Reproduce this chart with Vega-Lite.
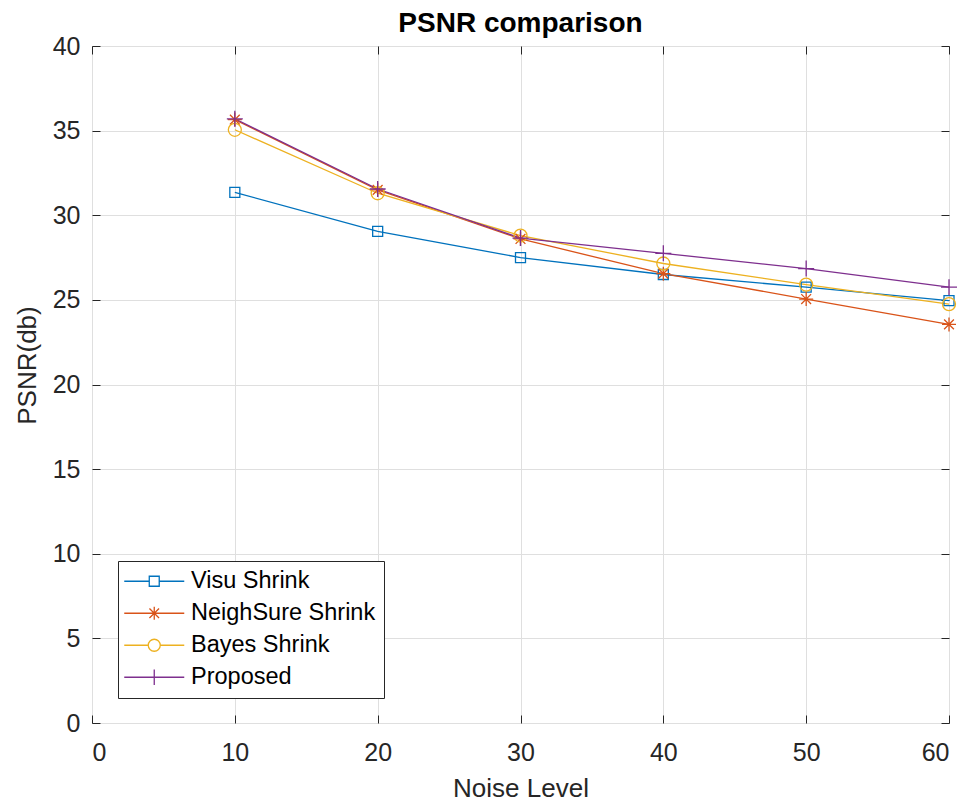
{
  "$schema": "https://vega.github.io/schema/vega-lite/v6.json",
  "width": 857,
  "height": 677,
  "autosize": "none",
  "padding": {"left": 92, "top": 46, "right": 23, "bottom": 88},
  "background": "white",
  "title": {"text": "PSNR comparison", "font": "Liberation Sans", "fontSize": 28, "fontWeight": "bold", "color": "#000000", "baseline": "alphabetic", "offset": 2, "dy": 28},
  "config": {
    "view": {"stroke": "#262626", "strokeWidth": 1},
    "font": "Liberation Sans",
    "axis": {
      "gridColor": "#dfdfdf", "gridWidth": 1,
      "domain": false, "tickColor": "#262626", "tickSize": -8,
      "labelFont": "Liberation Sans", "labelFontSize": 25, "labelColor": "#262626",
      "titleFont": "Liberation Sans", "titleFontSize": 26, "titleColor": "#262626", "titleFontWeight": "normal"
    }
  },
  "data": {"values": [
    {"x": 10, "y": 31.35, "series": "Visu Shrink"},
    {"x": 20, "y": 29.05, "series": "Visu Shrink"},
    {"x": 30, "y": 27.5, "series": "Visu Shrink"},
    {"x": 40, "y": 26.5, "series": "Visu Shrink"},
    {"x": 50, "y": 25.75, "series": "Visu Shrink"},
    {"x": 60, "y": 24.95, "series": "Visu Shrink"},
    {"x": 10, "y": 35.65, "series": "NeighSure Shrink"},
    {"x": 20, "y": 31.5, "series": "NeighSure Shrink"},
    {"x": 30, "y": 28.6, "series": "NeighSure Shrink"},
    {"x": 40, "y": 26.55, "series": "NeighSure Shrink"},
    {"x": 50, "y": 25.05, "series": "NeighSure Shrink"},
    {"x": 60, "y": 23.55, "series": "NeighSure Shrink"},
    {"x": 10, "y": 35.05, "series": "Bayes Shrink"},
    {"x": 20, "y": 31.3, "series": "Bayes Shrink"},
    {"x": 30, "y": 28.8, "series": "Bayes Shrink"},
    {"x": 40, "y": 27.15, "series": "Bayes Shrink"},
    {"x": 50, "y": 25.9, "series": "Bayes Shrink"},
    {"x": 60, "y": 24.75, "series": "Bayes Shrink"},
    {"x": 10, "y": 35.7, "series": "Proposed"},
    {"x": 20, "y": 31.55, "series": "Proposed"},
    {"x": 30, "y": 28.65, "series": "Proposed"},
    {"x": 40, "y": 27.75, "series": "Proposed"},
    {"x": 50, "y": 26.85, "series": "Proposed"},
    {"x": 60, "y": 25.75, "series": "Proposed"}
  ]},
  "encoding": {
    "x": {"field": "x", "type": "quantitative", "scale": {"domain": [0, 60], "nice": false}, "axis": null},
    "y": {"field": "y", "type": "quantitative", "scale": {"domain": [0, 40], "nice": false}, "axis": null}
  },
  "layer": [
    {
      "transform": [{"filter": "datum.series === 'Visu Shrink'"}],
      "mark": {"type": "line", "strokeWidth": 1.3, "color": "#0072BD"},
      "encoding": {
        "x": {"field": "x", "type": "quantitative", "axis": {"orient": "bottom", "grid": true, "values": [0, 10, 20, 30, 40, 50, 60], "title": "Noise Level", "labelPadding": 25, "titlePadding": 10}},
        "y": {"field": "y", "type": "quantitative", "axis": {"orient": "left", "grid": true, "values": [0, 5, 10, 15, 20, 25, 30, 35, 40], "title": "PSNR(db)", "labelPadding": 20, "titleAngle": 270, "titleAlign": "center", "titleBaseline": "alphabetic", "titleX": -57, "titleY": 319}}
      }
    },
    {"transform": [{"filter": "datum.series === 'NeighSure Shrink'"}], "mark": {"type": "line", "strokeWidth": 1.3, "color": "#D95319"}},
    {"transform": [{"filter": "datum.series === 'Bayes Shrink'"}], "mark": {"type": "line", "strokeWidth": 1.3, "color": "#EDB120"}},
    {"transform": [{"filter": "datum.series === 'Proposed'"}], "mark": {"type": "line", "strokeWidth": 1.3, "color": "#7E2F8E"}},
    {"transform": [{"filter": "datum.series === 'Visu Shrink'"}], "mark": {"type": "point", "shape": "square", "size": 100, "filled": false, "strokeWidth": 1.3, "opacity": 1, "color": "#0072BD"}},
    {"transform": [{"filter": "datum.series === 'NeighSure Shrink'"}], "mark": {"type": "point", "shape": "M-1,0H1M0,-1V1M-0.7,-0.7L0.7,0.7M-0.7,0.7L0.7,-0.7", "size": 196, "filled": false, "strokeWidth": 1.3, "opacity": 1, "color": "#D95319"}},
    {"transform": [{"filter": "datum.series === 'Bayes Shrink'"}], "mark": {"type": "point", "shape": "circle", "size": 169, "filled": false, "strokeWidth": 1.3, "opacity": 1, "color": "#EDB120"}},
    {"transform": [{"filter": "datum.series === 'Proposed'"}], "mark": {"type": "point", "shape": "M-1,0H1M0,-1V1", "size": 256, "filled": false, "strokeWidth": 1.3, "opacity": 1, "color": "#7E2F8E"}},
    {
      "transform": [{"filter": "datum.x < 0"}],
      "mark": {"type": "point", "filled": false, "strokeWidth": 1.3, "opacity": 1},
      "encoding": {
        "x": {"field": "x", "type": "quantitative", "axis": {"orient": "top", "grid": false, "labels": false, "title": null, "values": [0, 10, 20, 30, 40, 50, 60]}},
        "y": {"field": "y", "type": "quantitative", "axis": {"orient": "right", "grid": false, "labels": false, "title": null, "values": [0, 5, 10, 15, 20, 25, 30, 35, 40]}},
        "color": {"field": "series", "type": "nominal", "scale": {"domain": ["Visu Shrink", "NeighSure Shrink", "Bayes Shrink", "Proposed"], "range": ["#0072BD", "#D95319", "#EDB120", "#7E2F8E"]}},
        "shape": {"field": "series", "type": "nominal",
          "scale": {"domain": ["Visu Shrink", "NeighSure Shrink", "Bayes Shrink", "Proposed"],
            "range": ["M-5,0H-0.83M0.83,0H5M-0.83,-0.83H0.83V0.83H-0.83Z", "M-5,0H5M0,-1.1V1.1M-0.8,-0.8L0.8,0.8M-0.8,0.8L0.8,-0.8", "M-5,0H-1M1,0H5M1,0A1,1,0,1,1,-1,0A1,1,0,1,1,1,0", "M-5,0H5M0,-1.3V1.3"]},
          "legend": {
            "title": null, "orient": "none", "legendX": 26, "legendY": 515,
            "strokeColor": "#262626", "fillColor": "white", "padding": 8.5,
            "symbolSize": 144, "symbolOffset": 16, "symbolStrokeWidth": 1.3,
            "labelFont": "Liberation Sans", "labelFontSize": 23.5, "labelColor": "#000000", "labelOffset": 25, "labelLimit": 400,
            "rowPadding": 7
          }
        }
      }
    }
  ],
  "resolve": {"axis": {"x": "independent", "y": "independent"}}
}
